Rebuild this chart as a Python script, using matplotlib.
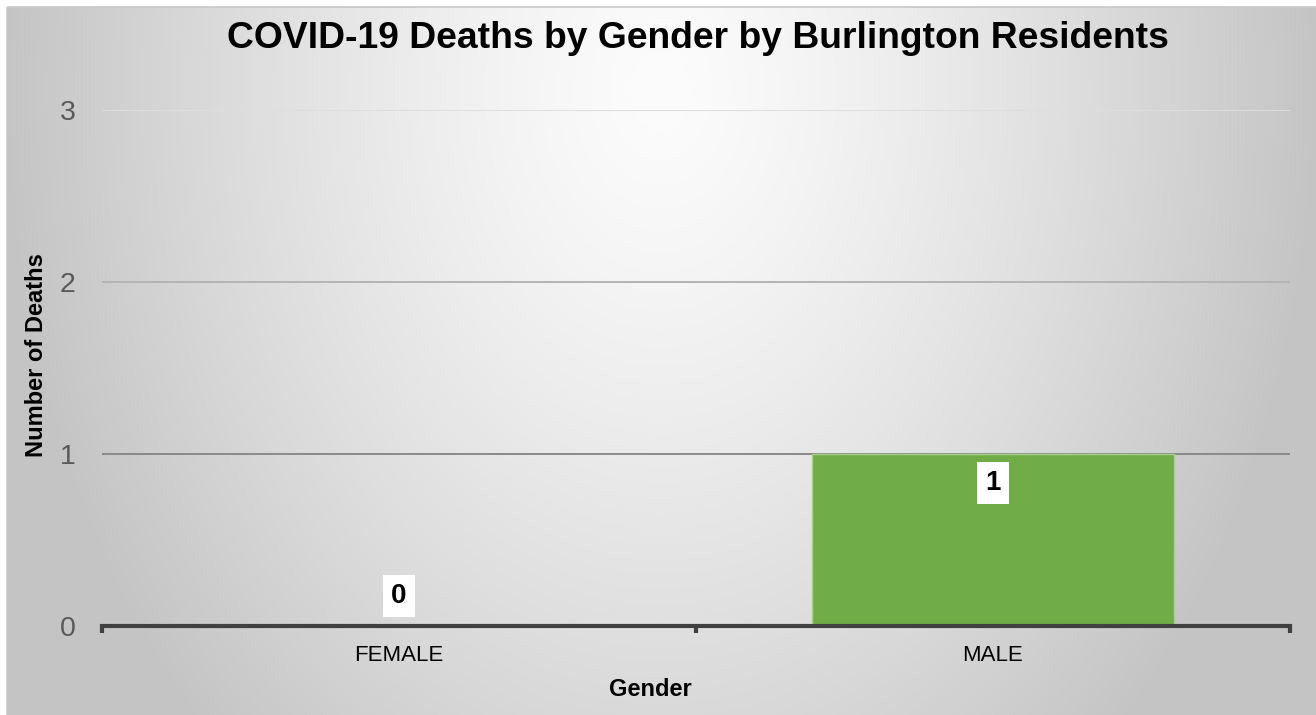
import numpy as np
import matplotlib
matplotlib.use("Agg")
import matplotlib.pyplot as plt
from matplotlib.patches import Rectangle

plt.rcParams['font.family'] = ['Liberation Sans', 'DejaVu Sans']

# ---- data ----
categories = ["FEMALE", "MALE"]
deaths = [0, 1]
y_ticks = [0, 1, 2, 3]
title = "COVID-19 Deaths by Gender by Burlington Residents"
x_label = "Gender"
y_label = "Number of Deaths"

W, H, DPI = 1316, 715, 100
fig = plt.figure(figsize=(W / DPI, H / DPI), dpi=DPI)
fig.patch.set_facecolor("white")

# ---- gradient background (radial, light at top centre) ----
bg = fig.add_axes([0, 0, 1, 1], zorder=-10)
bg.set_axis_off()
bg.set_xlim(0, W)
bg.set_ylim(H, 0)
xs = np.arange(7, W)
ys = np.arange(7, H)
X, Y = np.meshgrid(xs, ys)
r = np.sqrt(((X - 660) / 660.0) ** 2 + ((Y - 90) / 900.0) ** 2)
v = 252 - 56 * np.clip(r, 0, 1) ** 1.3
img = np.dstack([v, v, v]) / 255.0
bg.imshow(img, extent=(7, W, H, 7), aspect="auto", interpolation="bilinear")
bg.add_patch(Rectangle((6.5, 6.5), W, H, fill=False, edgecolor="#c8c8c8", lw=1.2))

# ---- plot area ----
left, right, bottom, top = 102, 1290, 626, 110
ax = fig.add_axes([left / W, 1 - bottom / H, (right - left) / W, (bottom - top) / H])
ax.patch.set_alpha(0)
x = np.arange(len(categories))
ax.set_xlim(-0.5, len(categories) - 0.5)
ax.set_ylim(y_ticks[0], y_ticks[-1])

grid_colors = {1: "#8a8a8a", 2: "#b4b4b4", 3: "#dedede"}
for t in y_ticks[1:]:
    ax.axhline(t, color=grid_colors.get(t, "#b0b0b0"), lw=1.4, zorder=1)

bars = ax.bar(x, deaths, width=0.608, color="#70AD47", edgecolor="#a9d18e",
              linewidth=1.0, zorder=2)

label_box = dict(boxstyle="square,pad=0.3", fc="white", ec="none")
for xi, val in zip(x, deaths):
    dy = -21 if val > 0 else 21.5
    ax.annotate(str(val), (xi, val), xytext=(0, dy), textcoords="offset points",
                ha="center", va="center", fontsize=20, fontweight="bold", color="black",
                bbox=label_box, zorder=4)

for s in ["left", "right", "top"]:
    ax.spines[s].set_visible(False)
ax.spines["bottom"].set_color("#404040")
ax.spines["bottom"].set_linewidth(3)
ax.spines["bottom"].set_zorder(3)

ax.set_yticks(y_ticks)
ax.set_yticklabels([str(t) for t in y_ticks])
ax.tick_params(axis="y", length=0, pad=19, labelsize=20.5, labelcolor="#595959")

ax.set_xticks(x)
ax.set_xticklabels(categories)
ax.tick_params(axis="x", length=0, pad=14, labelsize=16, labelcolor="black")
# category boundary tick marks
ax.set_xticks(np.arange(-0.5, len(categories), 1.0), minor=True)
ax.tick_params(axis="x", which="minor", length=5, width=3, color="#404040", direction="out")

ax.set_xlabel(x_label, fontsize=17, fontweight="bold", color="black")
ax.xaxis.set_label_coords((650 - left) / (right - left), -(689 - bottom) / (bottom - top))
ax.xaxis.label.set_va("center")
ax.set_ylabel(y_label, fontsize=17, fontweight="bold", color="black")
ax.yaxis.set_label_coords((37 - left) / (right - left), (bottom - 355) / (bottom - top))
ax.yaxis.label.set_va("center")

fig.text(698 / W, 1 - 38 / H, title, ha="center", va="center",
         fontsize=26.8, fontweight="bold", color="black")

fig.savefig("out.png", dpi=DPI)
